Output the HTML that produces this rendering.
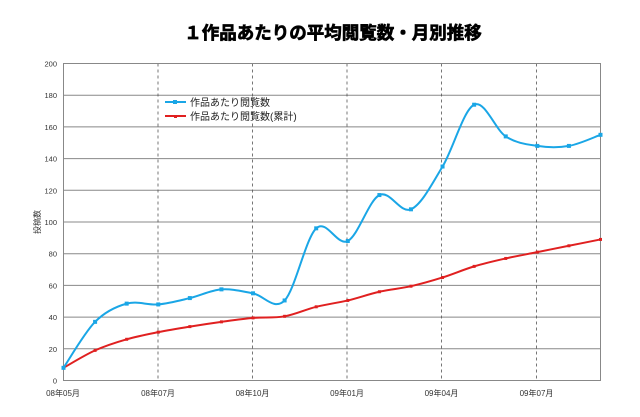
<!DOCTYPE html>
<html><head><meta charset="utf-8">
<style>
html,body{margin:0;padding:0;background:#fff;width:640px;height:417px;overflow:hidden}
svg{display:block;font-family:"Liberation Sans","Noto Sans CJK JP",sans-serif}
</style></head><body>
<svg id="c" width="640" height="417" xmlns="http://www.w3.org/2000/svg">
<text x="333" y="39" text-anchor="middle" font-size="17.5" font-weight="bold" fill="#000" stroke="#000" stroke-width="0.7" font-family="'Noto Sans CJK JP',sans-serif">１作品あたりの平均閲覧数・月別推移</text>
<g id="grid"></g>
<rect x="63.5" y="63.5" width="537" height="317" fill="none" stroke="#888" stroke-width="1"/>
<g id="series"></g>
<text transform="translate(40,222) rotate(-90)" font-size="8" text-anchor="middle" fill="#333">投稿数</text>
<line x1="165" y1="102" x2="186" y2="102" stroke="#1aa6e6" stroke-width="2"/>
<rect x="173" y="100" width="4" height="4" fill="#1aa6e6"/>
<text x="190" y="106" font-size="10" fill="#222">作品あたり閲覧数</text>
<line x1="165" y1="116" x2="186" y2="116" stroke="#e02020" stroke-width="2"/>
<rect x="174" y="115" width="3" height="3" fill="#e02020"/>
<text x="190" y="120" font-size="10" fill="#222">作品あたり閲覧数(累計)</text>
</svg>
<script>
var ns="http://www.w3.org/2000/svg";
function el(t,a,p){var e=document.createElementNS(ns,t);for(var k in a)e.setAttribute(k,a[k]);p.appendChild(e);return e;}
var g=document.getElementById('grid'),s=document.getElementById('series');
var L=63.5,R=600.5,T=63.5,B=380.5;
function Y(v){return B-(v/200)*(B-T);}
function X(i){return L+i*(R-L)/17;}
for(var v=0;v<=200;v+=20){var y=Y(v);
 if(v>0&&v<200)el('line',{x1:L,x2:R,y1:y,y2:y,stroke:'#888','stroke-width':1},g);
 var t=el('text',{x:57,y:y+3,'font-size':7.5,'text-anchor':'end',fill:'#333'},g);t.textContent=v;}
var vx=[158,252.5,347,441.5,536.5];
vx.forEach(function(x){el('line',{x1:x,x2:x,y1:T,y2:B,stroke:'#555','stroke-width':0.8,'stroke-dasharray':'3,3'},g);});
var labs=[[63,'08年05月'],[158,'08年07月'],[252.5,'08年10月'],[347,'09年01月'],[441.5,'09年04月'],[536.5,'09年07月']];
labs.forEach(function(l){var t=el('text',{x:l[0],y:396,'font-size':8,'text-anchor':'middle',fill:'#333'},g);t.textContent=l[1];});
function path(d){var p=d.map(function(v,i){return [X(i),Y(v)];});var s='M'+p[0][0]+','+p[0][1];
 for(var i=0;i<p.length-1;i++){var p0=p[Math.max(0,i-1)],p1=p[i],p2=p[i+1],p3=p[Math.min(p.length-1,i+2)];
  var c1=[p1[0]+(p2[0]-p0[0])/6,p1[1]+(p2[1]-p0[1])/6],c2=[p2[0]-(p3[0]-p1[0])/6,p2[1]-(p3[1]-p1[1])/6];
  s+=' C'+c1+' '+c2+' '+p2;}return s;}
var blue=[8,37,48.5,48,52,57.5,55,50.5,96,88,117,108,135,174,154,148,148,155];
var red=[8,19,26,30.5,34,37,39.5,40.5,46.5,50.5,56,59.5,65,72,77,81,85,89];
el('path',{d:path(red),fill:'none',stroke:'#e02020','stroke-width':2},s);
red.forEach(function(v,i){el('rect',{x:X(i)-1.5,y:Y(v)-1.5,width:3,height:3,fill:'#e02020'},s);});
el('path',{d:path(blue),fill:'none',stroke:'#1aa6e6','stroke-width':2},s);
blue.forEach(function(v,i){el('rect',{x:X(i)-2,y:Y(v)-2,width:4,height:4,fill:'#1aa6e6'},s);});
</script>
</body></html>
